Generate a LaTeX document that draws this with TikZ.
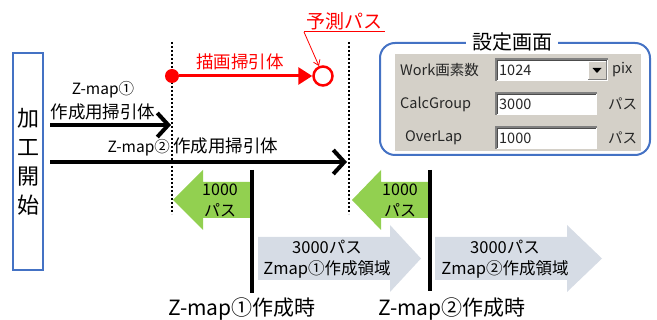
\documentclass[tikz,border=0pt]{standalone}
\usepackage{fontspec}
\setmainfont{Noto Sans CJK JP}
\usetikzlibrary{arrows.meta}
\definecolor{boxblue}{HTML}{4472C4}
\definecolor{arrgreen}{HTML}{92D050}
\definecolor{arrgrey}{HTML}{D6DCE5}
\definecolor{panelgrey}{HTML}{D4D0C8}
\definecolor{fielddark}{HTML}{808080}
\begin{document}
\begin{tikzpicture}[x=1pt,y=-1pt,
  txt/.style={inner sep=0pt, anchor=center},
  blackarrow/.style={line width=4pt, -{Straight Barb[length=11pt,width=24pt,line width=4pt]}},
  dotline/.style={line width=1.8pt, dash pattern=on 1.8pt off 2.2pt},
  greenarrow/.style={fill=arrgreen, draw=none},
  greyarrow/.style={fill=arrgrey, draw=none},
  timeline/.style={line width=4pt},
  paneltxt/.style={inner sep=0pt, anchor=west, font=\fontsize{14.5}{15}\selectfont, text=black!85}
]
\useasboundingbox (0,0) rectangle (657,320);

% --- left box
\node[draw=boxblue, line width=2pt, minimum width=30pt, minimum height=217pt, inner sep=0pt] (start) at (28,161.5) {};
\node[txt, align=center, font=\fontsize{22}{29}\selectfont] (starttxt) at (28,162) {加\\工\\開\\始};

% --- dotted lines
\coordinate (d1t) at (172,42); \coordinate (d1b) at (172,214);
\coordinate (d2t) at (349,42); \coordinate (d2b) at (349,214);
\draw[dotline] (d1t) -- (d1b);
\draw[dotline] (d2t) -- (d2b);

% --- black sweep arrows
\coordinate (a1s) at (50,125); \coordinate (a1e) at (171,125);
\draw[blackarrow] (a1s) -- (a1e);
\node[txt, font=\fontsize{15.5}{16}\selectfont] (a1l1) at (103,90) {Z-map①};
\node[txt, font=\fontsize{17.5}{18}\selectfont] (a1l2) at (103,112) {作成用掃引体};

\coordinate (a2s) at (50,162); \coordinate (a2e) at (347,162);
\draw[blackarrow] (a2s) -- (a2e);
\node[txt, font=\fontsize{17.5}{18}\selectfont] (a2l) at (193,147) {\fontsize{15.5}{16}\selectfont Z-map② \fontsize{17.5}{18}\selectfont 作成用掃引体};

% --- red drawing sweep
\node[circle, fill=red, minimum size=14pt, inner sep=0pt] (rdot) at (172,76) {};
\node[circle, draw=red, line width=2.5pt, fill=white, minimum size=19pt, inner sep=0pt] (pred) at (323,76) {};
\draw[red, line width=3pt, -{Triangle[length=14pt,width=17pt]}] (rdot) -- (pred.west);
\node[txt, text=red, font=\fontsize{17.5}{18}\selectfont] (rlab) at (240,62) {描画掃引体};
\node[txt, text=red, font=\fontsize{19}{20}\selectfont] (yosoku) at (344,21) {予測パス};
\coordinate (ul1) at (304,32); \coordinate (ul2) at (385,32);
\draw[red, line width=1pt] (ul1) -- (ul2);
\draw[red, line width=0.8pt, -{Straight Barb[length=5pt,width=7pt]}] (ul1) -- (pred.112);

% --- green overlap arrows
\draw[greenarrow] (173,200) -- (203,170) -- (203,182) -- (250,182) -- (250,218) -- (203,218) -- (203,230) -- cycle;
\node[txt, align=center, font=\fontsize{16}{21}\selectfont] (g1) at (220,200) {1000\\パス};
\draw[greenarrow] (352,200) -- (381,170) -- (381,182) -- (428,182) -- (428,218) -- (381,218) -- (381,230) -- cycle;
\node[txt, align=center, font=\fontsize{16}{21}\selectfont] (g2) at (400,200) {1000\\パス};

% --- grey region arrows
\draw[greyarrow] (258,237) -- (390,237) -- (390,225) -- (421,258.5) -- (390,292) -- (390,280) -- (258,280) -- cycle;
\node[txt, align=center, font=\fontsize{16.5}{21}\selectfont] (r1) at (327,259) {3000パス\\Zmap①作成領域};
\draw[greyarrow] (435,237) -- (567,237) -- (567,225) -- (602,258.5) -- (567,292) -- (567,280) -- (435,280) -- cycle;
\node[txt, align=center, font=\fontsize{16.5}{21}\selectfont] (r2) at (505,259) {3000パス\\Zmap②作成領域};

% --- time lines
\coordinate (t1t) at (252,170); \coordinate (t1b) at (252,293);
\coordinate (t2t) at (430,170); \coordinate (t2b) at (430,291);
\draw[timeline] (t1t) -- (t1b);
\draw[timeline] (t2t) -- (t2b);
\node[txt, font=\fontsize{21}{22}\selectfont] (time1) at (242,309) {Z-map①作成時};
\node[txt, font=\fontsize{21}{22}\selectfont] (time2) at (452,309) {Z-map②作成時};

% --- settings panel
\draw[boxblue, line width=2pt, rounded corners=15pt] (380,43) rectangle (650,155);
\node[fill=white, inner xsep=6pt, inner ysep=1pt, font=\fontsize{20}{21}\selectfont] (settitle) at (512,42) {設定画面};
\fill[panelgrey] (395,54) rectangle (641,151);
% fields
\foreach \ya/\yb/\xr in {59/81/608, 93/115/597, 127/149/597}{
  \fill[white] (496,\ya) rectangle (\xr,\yb);
  \draw[fielddark, line width=1.2pt] (496,\yb) -- (496,\ya) -- (\xr,\ya);
  \draw[black!70, line width=0.8pt] (497.5,\yb-1) -- (497.5,\ya+1.5) -- (\xr-1,\ya+1.5);
}
\fill[panelgrey] (588,61.5) rectangle (606,79.5);
\draw[white, line width=0.8pt] (588,79.5) -- (588,61.5) -- (606,61.5);
\draw[fielddark, line width=1pt] (588,79.5) -- (606,79.5) -- (606,61.5);
\fill[black] (592.5,68) -- (601.5,68) -- (597,73) -- cycle;
\node[paneltxt] (w1) at (400,70) {Work画素数};
\node[paneltxt] (w2) at (400,104) {CalcGroup};
\node[paneltxt] (w3) at (405,138) {OverLap};
\node[paneltxt] (v1) at (499,70) {1024};
\node[paneltxt] (v2) at (499,104) {3000};
\node[paneltxt] (v3) at (499,138) {1000};
\node[paneltxt] (u1) at (612,70) {pix};
\node[paneltxt] (u2) at (608,104) {パス};
\node[paneltxt] (u3) at (608,138) {パス};
\end{tikzpicture}
\end{document}
